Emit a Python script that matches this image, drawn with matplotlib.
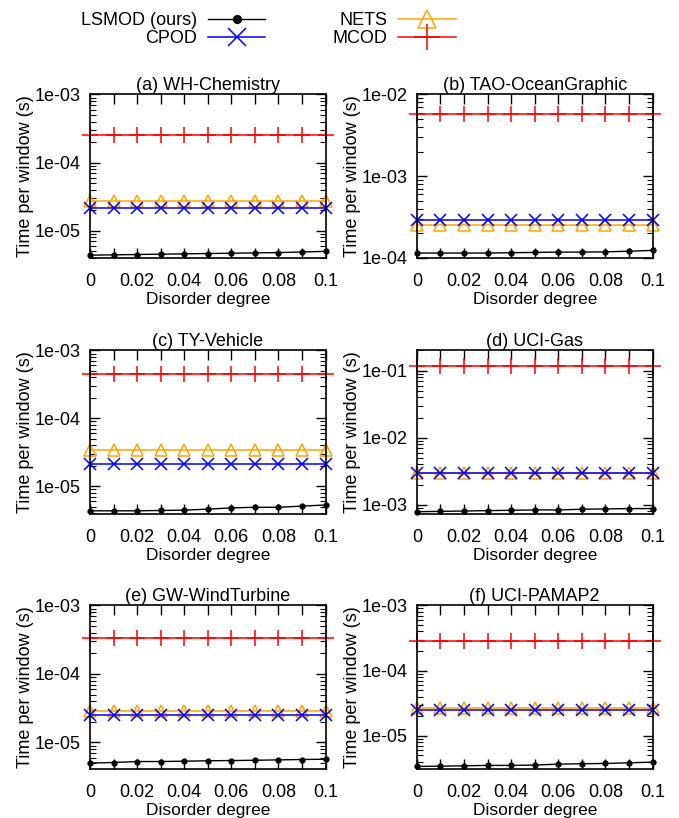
import matplotlib
matplotlib.use("Agg")
import matplotlib.pyplot as plt
from matplotlib.ticker import FuncFormatter, LogLocator, MultipleLocator

plt.rcParams['font.family'] = ['Liberation Sans', 'DejaVu Sans']

# disorder degree
x = [0, 0.01, 0.02, 0.03, 0.04, 0.05, 0.06, 0.07, 0.08, 0.09, 0.1]

titles = ["(a) WH-Chemistry", "(b) TAO-OceanGraphic", "(c) TY-Vehicle",
          "(d) UCI-Gas", "(e) GW-WindTurbine", "(f) UCI-PAMAP2"]

lsmod = [
    [4.4e-6, 4.45e-6, 4.5e-6, 4.55e-6, 4.6e-6, 4.65e-6, 4.7e-6, 4.75e-6, 4.8e-6, 4.9e-6, 5.0e-6],
    [1.15e-4, 1.15e-4, 1.15e-4, 1.15e-4, 1.16e-4, 1.17e-4, 1.18e-4, 1.18e-4, 1.19e-4, 1.21e-4, 1.24e-4],
    [4.35e-6, 4.35e-6, 4.35e-6, 4.4e-6, 4.45e-6, 4.6e-6, 4.8e-6, 4.9e-6, 4.9e-6, 5.1e-6, 5.3e-6],
    [7.9e-4, 8.0e-4, 8.1e-4, 8.2e-4, 8.3e-4, 8.4e-4, 8.4e-4, 8.6e-4, 8.7e-4, 8.8e-4, 8.8e-4],
    [5.0e-6, 5.1e-6, 5.27e-6, 5.27e-6, 5.33e-6, 5.4e-6, 5.45e-6, 5.5e-6, 5.57e-6, 5.64e-6, 5.7e-6],
    [3.39e-6, 3.43e-6, 3.47e-6, 3.52e-6, 3.52e-6, 3.56e-6, 3.68e-6, 3.73e-6, 3.77e-6, 3.86e-6, 3.95e-6],
]
cpod = [2.15e-5, 2.95e-4, 2.1e-5, 3.0e-3, 2.48e-5, 2.5e-5]
nets = [2.75e-5, 2.5e-4, 3.45e-5, 3.0e-3, 2.84e-5, 2.7e-5]
mcod = [2.5e-4, 5.8e-3, 4.5e-4, 0.119, 3.4e-4, 2.84e-4]

ylims = [(4.0e-6, 1e-3), (1e-4, 1e-2), (3.9e-6, 1e-3),
         (7.3e-4, 0.2), (4.1e-6, 1e-3), (3.1e-6, 1e-3)]

fig = plt.figure(figsize=(6.79, 8.18), dpi=100)

lefts = [0.1325, 0.614]
bottoms = [0.6846, 0.3716, 0.0599]
w = 0.347
h = 0.2

fs = 12.5
handles = None
for i in range(6):
    r, c = i // 2, i % 2
    ax = fig.add_axes([lefts[c], bottoms[r], w, h])
    n = len(x)
    l4, = ax.plot(x, [mcod[i]] * n, color='red', marker='+', ms=12, mew=1.1,
                  lw=1.1, clip_on=False, label='MCOD')
    l3, = ax.plot(x, [nets[i]] * n, color='orange', marker='^', ms=8, mfc='none',
                  mew=1.1, lw=1.1, clip_on=False, label='NETS')
    l2, = ax.plot(x, [cpod[i]] * n, color='blue', marker='x', ms=8, mew=1.1,
                  lw=1.1, clip_on=False, label='CPOD')
    l1, = ax.plot(x, lsmod[i], color='black', marker='o', ms=3.5, lw=1.0,
                  clip_on=False, label='LSMOD (ours)')
    handles = [l1, l2, l3, l4]

    ax.set_yscale('log')
    ax.set_xlim(0, 0.1)
    ax.set_ylim(*ylims[i])
    ax.xaxis.set_major_locator(MultipleLocator(0.02))
    ax.xaxis.set_minor_locator(MultipleLocator(0.01))
    ax.xaxis.set_major_formatter(FuncFormatter(lambda v, p: '0' if abs(v) < 1e-9 else ('%g' % round(v, 2))))
    ax.yaxis.set_major_locator(LogLocator(base=10))
    ax.yaxis.set_minor_locator(LogLocator(base=10, subs=range(2, 10)))
    ax.yaxis.set_major_formatter(FuncFormatter(lambda v, p: '%.0e' % v))
    ax.tick_params(which='both', direction='in', top=True, right=True, labelsize=fs + 0.5)
    ax.tick_params(which='major', length=7, width=1)
    ax.tick_params(which='minor', length=4, width=0.8)
    ax.tick_params(axis='x', which='minor', length=7, width=1)
    ax.tick_params(axis='x', pad=11)
    ax.tick_params(axis='y', pad=7)
    for s in ax.spines.values():
        s.set_linewidth(1.2)
    ax.set_title(titles[i], fontsize=fs + 0.5, pad=2)
    ax.set_xlabel('Disorder degree', fontsize=fs, labelpad=1)
    ax.set_ylabel('Time per window (s)', fontsize=fs + 0.5, labelpad=0)

fig.legend(handles=handles, labels=[hd.get_label() for hd in handles],
           loc='upper center', bbox_to_anchor=(0.395, 1.005), ncol=2,
           frameon=False, markerfirst=False, fontsize=fs + 0.5, markerscale=1.6,
           handlelength=3.2, columnspacing=3.7, labelspacing=0.05,
           handletextpad=0.6)

fig.savefig('out.png', dpi=100)
